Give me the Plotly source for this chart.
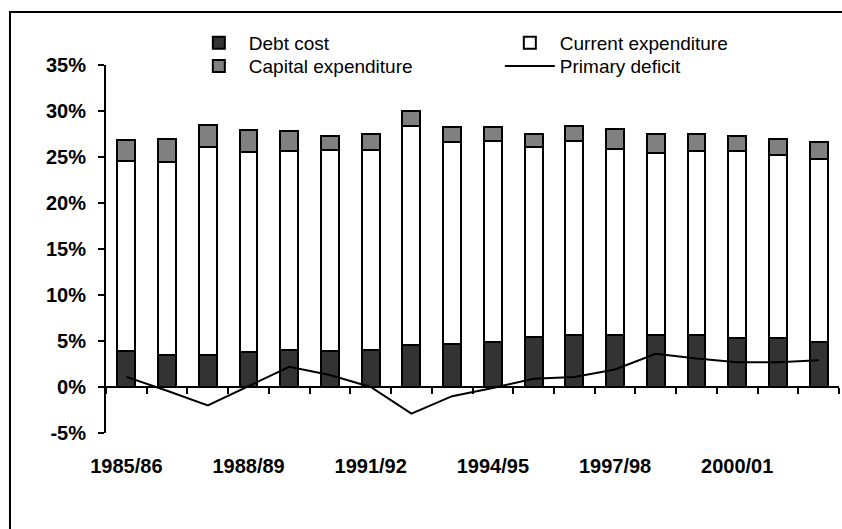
import plotly.graph_objects as go

years = ["1985/86", "1986/87", "1987/88", "1988/89", "1989/90", "1990/91",
         "1991/92", "1992/93", "1993/94", "1994/95", "1995/96", "1996/97",
         "1997/98", "1998/99", "1999/00", "2000/01", "2001/02", "2002/03"]
shown_labels = ["1985/86", "1988/89", "1991/92", "1994/95", "1997/98", "2000/01"]

debt_cost = [3.9, 3.5, 3.5, 3.8, 4.0, 3.9, 4.0, 4.6, 4.7, 4.85, 5.4, 5.6,
             5.7, 5.7, 5.6, 5.3, 5.3, 4.85]
current_exp = [20.7, 21.0, 22.55, 21.7, 21.6, 21.86, 21.76, 23.8, 21.9, 21.9,
               20.65, 21.14, 20.17, 19.77, 20.0, 20.3, 19.9, 19.95]
capital_exp = [2.25, 2.5, 2.45, 2.4, 2.2, 1.54, 1.74, 1.6, 1.7, 1.56, 1.41,
               1.66, 2.13, 2.0, 1.86, 1.7, 1.8, 1.8]
primary_deficit = [1.1, -0.4, -2.0, 0.1, 2.2, 1.3, 0.0, -2.9, -1.0, -0.1,
                   0.9, 1.1, 1.9, 3.6, 3.1, 2.7, 2.7, 2.9]

y_min, y_max, y_step = -5, 35, 5
y_ticks = list(range(y_min, y_max + 1, y_step))

outline = dict(color="black", width=2)
fig = go.Figure()
fig.add_trace(go.Bar(x=years, y=debt_cost, name="Debt cost", legend="legend",
                     marker=dict(color="#333333", line=outline)))
fig.add_trace(go.Bar(x=years, y=current_exp, name="Current expenditure", legend="legend",
                     marker=dict(color="white", line=outline)))
fig.add_trace(go.Bar(x=years, y=capital_exp, name="Capital expenditure", legend="legend2",
                     marker=dict(color="#808080", line=outline)))
fig.add_trace(go.Scatter(x=years, y=primary_deficit, name="Primary deficit",
                         legend="legend2",
                         mode="lines", line=dict(color="black", width=2),
                         xaxis="x2", yaxis="y"))

tick_font = dict(family="Liberation Sans, Arial, sans-serif", size=20,
                 color="black", weight="bold")
legend_font = dict(family="Liberation Sans, Arial, sans-serif", size=19, color="black")

legend_common = dict(orientation="h", x=0.113, xanchor="left", yanchor="middle",
                     entrywidth=246, entrywidthmode="pixels", itemwidth=50,
                     traceorder="normal", font=legend_font,
                     bgcolor="rgba(0,0,0,0)", borderwidth=0)

fig.update_layout(
    width=842, height=529,
    margin=dict(l=106, r=3, t=65, b=96),
    paper_bgcolor="white", plot_bgcolor="white",
    barmode="stack", bargap=0.56,
    showlegend=True,
    legend=dict(legend_common, y=1.060),
    legend2=dict(legend_common, y=0.997),
    xaxis=dict(type="category", categoryorder="array", categoryarray=years,
               range=[-0.5, len(years) - 0.5],
               tickmode="array", tickvals=shown_labels, ticktext=shown_labels,
               ticks="", showline=False, showgrid=False, zeroline=False,
               tickfont=tick_font, ticklabelstandoff=19, anchor="y"),
    xaxis2=dict(type="category", categoryorder="array", categoryarray=years,
                range=[-0.5, len(years) - 0.5], overlaying="x",
                anchor="free", position=(0 - y_min) / (y_max - y_min),
                showline=True, linecolor="black", linewidth=2,
                ticks="outside", ticklen=6, tickwidth=2, tickcolor="black",
                tickson="boundaries", showticklabels=False, showgrid=False,
                zeroline=False),
    yaxis=dict(range=[y_min, y_max], tickvals=y_ticks,
               ticktext=[f"{v}%" for v in y_ticks],
               showline=True, linecolor="black", linewidth=2,
               ticks="outside", ticklen=6, tickwidth=2, tickcolor="black",
               showgrid=False, zeroline=False, tickfont=tick_font,
               ticklabelstandoff=8),
    shapes=[dict(type="rect", xref="paper", yref="paper",
                 x0=-0.131, x1=1.2, y0=-0.5, y1=1.144,
                 line=dict(color="black", width=2), fillcolor="rgba(0,0,0,0)",
                 layer="below")],
)

fig.write_html("out.html",
               config={"displayModeBar": False},
               post_script="document.body.style.margin='0';"
                           "document.body.style.padding='0';"
                           "document.documentElement.style.margin='0';")
